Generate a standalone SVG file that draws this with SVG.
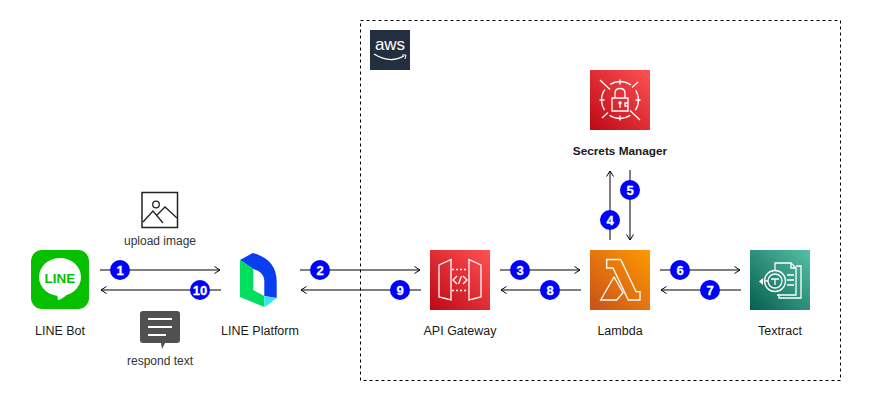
<svg xmlns="http://www.w3.org/2000/svg" width="881" height="401" viewBox="0 0 881 401">
<style>
text{font-family:"Liberation Sans",Arial,sans-serif;font-size:12.500px;fill:#1a1a1a;text-anchor:middle}
.c{fill:none;stroke:#000;stroke-width:1;marker-end:url(#a)}
.b{fill:#0000ff}
.n{fill:#fff;font-weight:bold;font-size:13px;stroke:#fff;stroke-width:.3}
.w{fill:none;stroke:#fff;stroke-width:1.300}
.t{font-size:12px;fill:#333}
</style>
<defs>
<marker id="a" markerWidth="9" markerHeight="9" refX="6.500" refY="4" orient="auto" markerUnits="userSpaceOnUse"><path d="M1 0.500L6.500 4L1 7.500" fill="none" stroke="#000" stroke-width="1"/></marker>
<linearGradient id="red" x1="0" y1="1" x2="1" y2="0"><stop offset="0" stop-color="#bd0816"/><stop offset="1" stop-color="#ff5252"/></linearGradient>
<linearGradient id="or" x1="0" y1="1" x2="1" y2="0"><stop offset="0" stop-color="#c8511b"/><stop offset="1" stop-color="#ff9900"/></linearGradient>
<linearGradient id="gr" x1="0" y1="1" x2="1" y2="0"><stop offset="0" stop-color="#055f4e"/><stop offset="1" stop-color="#56c0a7"/></linearGradient>
</defs>
<rect width="881" height="401" fill="#fff"/>
<g id="aws-boundary"><rect x="360.500" y="20.500" width="480" height="360" fill="none" stroke="#000" stroke-dasharray="3 3"/>
<rect x="370" y="30" width="40" height="40" fill="#232f3e"/>
<text x="390" y="50" style="font-size:17px;fill:#fff">aws</text>
<path d="M374 54Q390 64 404 56" fill="none" stroke="#fff" stroke-width="1.300"/><path d="M402 55L406 55L405 59" fill="none" stroke="#fff"/></g>
<g id="connectors">
<path class="c" d="M100 270H220"/><path class="c" d="M221 290H101"/>
<path class="c" d="M300 270H420"/><path class="c" d="M421 290H301"/>
<path class="c" d="M500 270H580"/><path class="c" d="M581 290H501"/>
<path class="c" d="M660 270H740"/><path class="c" d="M741 290H661"/>
<path class="c" d="M610 240V171"/><path class="c" d="M630 170V240"/>
<g id="badges">
<circle class="b" cx="120" cy="270" r="10"/><text class="n" x="120" y="275">1</text>
<circle class="b" cx="200" cy="290" r="10"/><text class="n" x="200" y="295">10</text>
<circle class="b" cx="320" cy="270" r="10"/><text class="n" x="320" y="275">2</text>
<circle class="b" cx="400" cy="290" r="10"/><text class="n" x="400" y="295">9</text>
<circle class="b" cx="520" cy="270" r="10"/><text class="n" x="520" y="275">3</text>
<circle class="b" cx="550" cy="290" r="10"/><text class="n" x="550" y="295">8</text>
<circle class="b" cx="680" cy="270" r="10"/><text class="n" x="680" y="275">6</text>
<circle class="b" cx="710" cy="290" r="10"/><text class="n" x="710" y="295">7</text>
<circle class="b" cx="610" cy="220" r="10"/><text class="n" x="610" y="225">4</text>
<circle class="b" cx="630" cy="190" r="10"/><text class="n" x="630" y="195">5</text>
</g></g>
<g id="line-bot">
<rect x="31" y="250" width="58" height="59" rx="11" fill="#06c000"/>
<ellipse cx="60" cy="277" rx="21" ry="19" fill="#fff"/><path d="M57 294L58 300Q60 301 70 292Z" fill="#fff"/>
<text x="60" y="282.500" style="font-size:13.500px;font-weight:bold;fill:#06c000">LINE</text>
<text x="60" y="335">LINE Bot</text></g>
<g id="upload-image">
<rect x="142" y="192.500" width="35.500" height="35" fill="none" stroke="#222" stroke-width="1.500"/>
<circle cx="156" cy="204.500" r="3.300" fill="none" stroke="#222" stroke-width="1.300"/>
<path d="M143 222L153 211L163 223M157 215L165 207L177 218" fill="none" stroke="#222" stroke-width="1.300"/>
<text class="t" x="160" y="245">upload image</text></g>
<g id="respond-text">
<path d="M143 311H177Q180 311 180 314V340Q180 343 177 343H165L162 349L161 343H143Q140 343 140 340V314Q140 311 143 311Z" fill="#505050"/>
<path d="M148 319H172M148 327H172M148 335H166" stroke="#fff" stroke-width="2" fill="none"/>
<text class="t" x="160" y="365">respond text</text></g>
<g id="line-platform">
<path d="M240 260L252.700 253Q276.700 259 276.700 282V298L264.300 296V280Q264 272 253.300 269Z" fill="#0a3df0"/>
<path d="M240 260L253.300 269V290L264.300 296V307L240 297Z" fill="#00de60"/>
<path d="M264.300 296L276.700 298L265 307L264.300 307Z" fill="#35e5f0"/>
<text x="260" y="335">LINE Platform</text></g>
<g id="api-gateway">
<rect x="430" y="250" width="60" height="60" fill="url(#red)"/>
<path class="w" d="M439 265L451 259.500V300L439 297ZM481 265L469 259.500V300L481 297Z"/>
<path d="M452 269.500H468M452 290.500H468" fill="none" stroke="#fff" stroke-width="1.300" stroke-dasharray="2 2"/>
<path class="w" d="M457 276L453 280L457 284M463 276L467 280L463 284M461.500 276L458.500 284"/>
<text x="460" y="335">API Gateway</text></g>
<g id="lambda">
<rect x="590" y="250" width="60" height="60" fill="url(#or)"/>
<path class="w" d="M606.700 259.500H620.700L636 291.700H640V300H628.300L613 268H606.700ZM600.700 300L614 277L623 292.700L616.700 300Z"/>
<text x="620" y="335">Lambda</text></g>
<g id="textract">
<rect x="750" y="250" width="60" height="60" fill="url(#gr)"/>
<path class="w" d="M775 270V263H791L796 268V295H777M791 263V268H796M796 266H801V298H779V295"/>
<path class="w" d="M787 275H794M787 280H794M787 285H794"/>
<circle class="w" cx="775" cy="281" r="10.500"/><circle class="w" cx="775" cy="281" r="7"/>
<path class="w" d="M771 279H779M775 279V285M764 281H768"/><path d="M759 281.500L763 278V285Z" fill="#fff"/>
<text x="780" y="335">Textract</text></g>
<g id="secrets-manager">
<rect x="590" y="70" width="60" height="60" fill="url(#red)"/>
<circle class="w" cx="620" cy="100" r="18.500" stroke-dasharray="22 7.060" stroke-dashoffset="11"/>
<path class="w" d="M620 79.500V84.500M620 115.500V120.500M599.500 100H604.500M635.500 100H640.500M600 80L610 89.500M630 110.500L640 120M638 82L632 87.500M602 118L608 112.500"/>
<path class="w" d="M612 98H628V111H612ZM615 98V93Q615 88.500 620 88.500Q625 88.500 625 93V98M620 104V108M625 103H628V106H625Z"/><circle cx="620" cy="103" r="1.700" fill="#fff"/>
<text x="620" y="155" style="font-weight:bold;font-size:11.800px">Secrets Manager</text></g>
</svg>
